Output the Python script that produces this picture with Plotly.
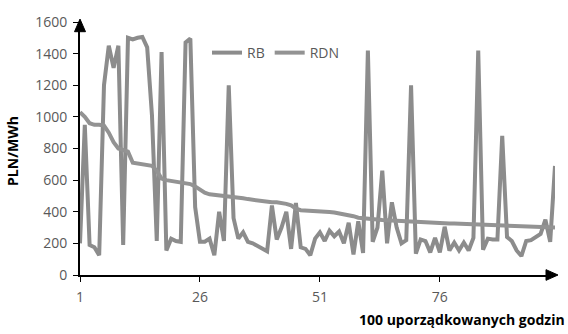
import plotly.graph_objects as go

hours = list(range(1, 101))

rb = [200, 950, 190, 175, 125, 1200, 1450, 1310, 1450, 190,
      1500, 1490, 1500, 1505, 1440, 1010, 215, 1410, 155, 230,
      215, 210, 1470, 1495, 430, 210, 210, 230, 125, 400,
      215, 1200, 360, 230, 270, 210, 200, 185, 165, 150,
      440, 225, 300, 400, 165, 455, 175, 165, 125, 230,
      270, 215, 280, 245, 275, 200, 330, 130, 340, 140,
      1420, 210, 300, 660, 200, 460, 300, 200, 220, 1200,
      135, 225, 215, 143, 235, 143, 305, 155, 205, 155,
      205, 155, 235, 1420, 160, 230, 225, 225, 880, 240,
      215, 155, 120, 215, 220, 240, 260, 350, 210, 690]

rdn = [1030, 1000, 960, 950, 950, 945, 900, 840, 800, 790,
       780, 710, 705, 700, 700, 690, 660, 610, 600, 595,
       590, 583, 578, 575, 560, 540, 520, 510, 507, 505,
       503, 500, 495, 490, 485, 480, 475, 470, 465, 462,
       460, 460, 458, 450, 440, 420, 410, 409, 408, 405,
       403, 400, 398, 395, 390, 385, 380, 372, 362, 358,
       355, 352, 350, 348, 346, 344, 342, 340, 338, 337,
       336, 335, 334, 333, 332, 330, 328, 326, 325, 324,
       322, 321, 320, 319, 318, 316, 315, 313, 311, 310,
       308, 307, 306, 305, 304, 303, 302, 301, 300, 300]

x_ticks = [1, 26, 51, 76]
y_ticks = [0, 200, 400, 600, 800, 1000, 1200, 1400, 1600]

W, H = 568, 334
L, R, T, B = 80, 13, 14, 59
PW, PH = W - L - R, H - T - B

def px(xp):
    return (xp - L) / PW

def py(yp):
    return (H - B - yp) / PH

fig = go.Figure()
fig.add_trace(go.Scatter(x=hours, y=rb, mode="lines", name="RB",
                         line=dict(color="#8c8c8c", width=4)))
fig.add_trace(go.Scatter(x=hours, y=rdn, mode="lines", name="RDN",
                         line=dict(color="#939393", width=4)))

tickfont = dict(family="Open Sans", size=14, color="#595959")

fig.update_layout(
    width=W, height=H,
    margin=dict(l=L, r=R, t=T, b=B),
    paper_bgcolor="white", plot_bgcolor="white",
    showlegend=True,
    legend=dict(orientation="h", x=px(207), y=py(46), xanchor="left", yanchor="middle",
                font=dict(family="Open Sans", size=14, color="#595959"),
                bgcolor="rgba(0,0,0,0)", itemwidth=30, tracegroupgap=0),
    xaxis=dict(range=[1, 100], tickmode="array", tickvals=x_ticks,
               ticktext=[str(v) for v in x_ticks],
               showgrid=False, zeroline=False, showline=True, linecolor="black", linewidth=2,
               ticks="outside", ticklen=5, tickcolor="black", tickwidth=1,
               tickfont=tickfont, ticklabelstandoff=3),
    yaxis=dict(range=[0, 1600], tickmode="array", tickvals=y_ticks,
               showgrid=False, zeroline=False, showline=True, linecolor="black", linewidth=2,
               ticks="outside", ticklen=5, tickcolor="black", tickwidth=1,
               tickfont=tickfont, ticklabelstandoff=3),
)

# arrowheads on axes
fig.add_shape(type="path", xref="paper", yref="paper",
              path=f"M {px(80)} {py(11)} L {px(74.5)} {py(24)} L {px(85.5)} {py(24)} Z",
              fillcolor="black", line=dict(color="black", width=1))
fig.add_shape(type="path", xref="paper", yref="paper",
              path=f"M {px(558)} {py(275)} L {px(546)} {py(269.5)} L {px(546)} {py(280.5)} Z",
              fillcolor="black", line=dict(color="black", width=1))

fig.add_annotation(text="<b>PLN/MWh</b>", xref="paper", yref="paper",
                   x=px(13), y=py(147), textangle=-90, showarrow=False,
                   font=dict(family="Open Sans", size=14, color="black"),
                   xanchor="center", yanchor="middle")
fig.add_annotation(text="<b>100 uporządkowanych godzin</b>", xref="paper", yref="paper",
                   x=px(567), y=py(321), showarrow=False,
                   font=dict(family="Open Sans", size=14, color="black"),
                   xanchor="right", yanchor="middle")

fig.write_html("out.html")
